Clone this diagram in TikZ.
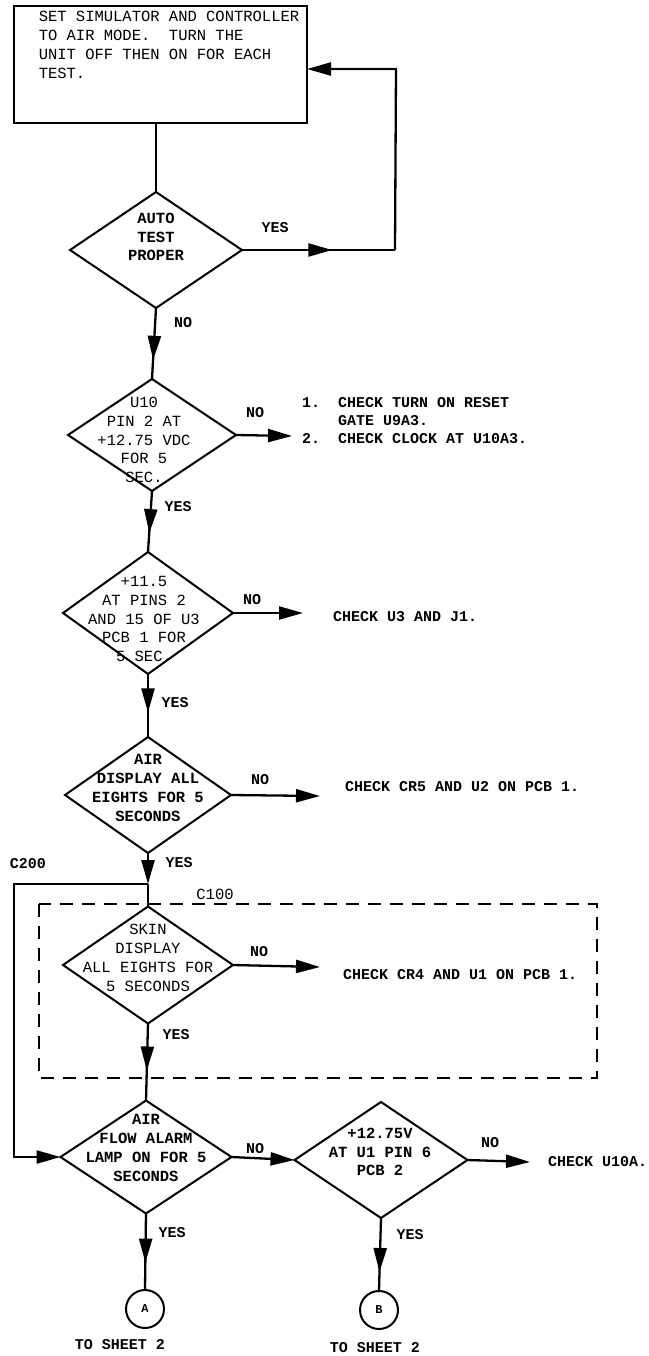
\documentclass[tikz,border=0pt]{standalone}
\usepackage{fontspec}
\setmonofont{Liberation Mono}
\usetikzlibrary{shapes.geometric,arrows.meta,decorations.markings}

\tikzset{
  flow/.style={line width=2.3pt},
  tip/.style={-{Triangle[length=24pt,width=13pt]}},
  midtip/.style={postaction={decorate},decoration={markings,mark=at position #1 with {\arrow{Triangle[length=24pt,width=13pt]}}}},
  dia/.style 2 args={draw,diamond,line width=2pt,inner sep=0pt,outer sep=0pt,minimum width=#1,minimum height=#2},
  txt/.style={font=\ttfamily\fontsize{15.5}{18.8}\selectfont,align=center,inner sep=0pt},
  btxt/.style={txt,font=\ttfamily\bfseries\fontsize{15.5}{18.8}\selectfont},
  lbl/.style={font=\ttfamily\bfseries\fontsize{15}{17}\selectfont,inner sep=0pt},
  note/.style={font=\ttfamily\bfseries\fontsize{15}{18}\selectfont,align=left,inner sep=0pt,anchor=west},
  conn/.style={draw,circle,line width=2pt,inner sep=0pt,minimum size=38pt,font=\ttfamily\bfseries\fontsize{12}{13}\selectfont},
}

\begin{document}
\begin{tikzpicture}[x=1pt,y=-1pt]
\useasboundingbox (0,0) rectangle (648,1356);
% start box
\node[draw,line width=2pt,minimum width=293pt,minimum height=117pt,inner sep=0pt,outer sep=0pt] (setup) at (160.5,64.5) {};
\node[txt,align=left] (setup-t) at (169,45) {SET SIMULATOR AND CONTROLLER\\TO AIR MODE.~ TURN THE\\UNIT OFF THEN ON FOR EACH\\TEST.};
% decisions
\node[dia={172}{116}] (auto) at (156,250) {};
\node[btxt] (auto-t) at (156,237) {AUTO\\TEST\\PROPER};
\node[dia={168}{112}] (u10) at (152,435) {};
\node[txt] (u10-t) at (144,440) {U10\\PIN 2 AT\\+12.75 VDC\\FOR 5\\SEC.};
\node[dia={170}{122}] (pin) at (148,613) {};
\node[txt] (pin-t) at (144,619) {+11.5\\AT PINS 2\\AND 15 OF U3\\PCB 1 FOR\\5 SEC.};
\node[dia={166}{116}] (airdisp) at (148,795) {};
\node[btxt] (airdisp-t) at (148,788) {AIR\\DISPLAY ALL\\EIGHTS FOR 5\\SECONDS};
\node[dia={170}{117}] (skin) at (148,965) {};
\node[txt] (skin-t) at (148,958) {SKIN\\DISPLAY\\ALL EIGHTS FOR\\5 SECONDS};
\node[dia={171}{113}] (airflow) at (146,1157) {};
\node[btxt] (airflow-t) at (146,1148) {AIR\\FLOW ALARM\\LAMP ON FOR 5\\SECONDS};
\node[dia={173}{116}] (volt) at (381,1160) {};
\node[btxt] (volt-t) at (380,1152) {+12.75V\\AT U1 PIN 6\\PCB 2};
% off-sheet connectors
\node[conn] (sheetA) at (145,1309) {A};
\node[conn] (sheetB) at (379,1310) {B};
\node[lbl] (sheetA-t) at (120,1345) {TO SHEET 2};
\node[lbl] (sheetB-t) at (375,1348) {TO SHEET 2};
% free ends
\coordinate (yesr) at (395,250);
\coordinate (yestop) at (396,69);
\coordinate (u10-end) at (292,436);
\coordinate (pin-end) at (303,613);
\coordinate (airdisp-end) at (320,796);
\coordinate (skin-end) at (320,967);
\coordinate (volt-end) at (530,1162);
\coordinate (jn) at (148,884);
\coordinate (jl) at (14,884);
% main flow
\draw[flow] (setup.south -| auto.north) -- (auto.north);
\draw[flow,midtip=0.59] (auto.east) -- (yesr);
\draw[flow,tip] (yesr) -- (yestop) -- (yestop -| setup.east);
\draw[flow,midtip=0.73] (auto.south) -- (u10.north);
\draw[flow,midtip=0.69] (u10.south) -- (pin.north);
\draw[flow,midtip=0.61] (pin.south) -- (airdisp.north);
\draw[flow,tip] (airdisp.south) -- (jn);
\draw[flow] (jn) -- (skin.north);
\draw[flow,tip] (jn) -- (jl) |- (airflow.west);
\draw[flow,midtip=0.61] (skin.south) -- (airflow.north);
\draw[flow,tip] (airflow.east) -- (volt.west);
\draw[flow,midtip=0.65] (airflow.south) -- (sheetA.north);
\draw[flow,midtip=0.75] (volt.south) -- (sheetB.north);
% NO branches
\draw[flow,tip] (u10.east) -- (u10-end);
\draw[flow,tip] (pin.east) -- (pin-end);
\draw[flow,tip] (airdisp.east) -- (airdisp-end);
\draw[flow,tip] (skin.east) -- (skin-end);
\draw[flow,tip] (volt.east) -- (volt-end);
% C100 group
\draw[line width=1.6pt,dash pattern=on 13pt off 9pt] (39,904) rectangle (597,1078);
\node[txt] (c100) at (215,894) {C100};
\node[lbl] (c200) at (28,864) {C200};
% labels
\node[lbl] (auto-yes) at (275,228) {YES};
\node[lbl] (auto-no) at (183,323) {NO};
\node[lbl] (u10-no) at (255,413) {NO};
\node[lbl] (u10-yes) at (178,507) {YES};
\node[lbl] (pin-no) at (252,600) {NO};
\node[lbl] (pin-yes) at (175,703) {YES};
\node[lbl] (airdisp-no) at (260,780) {NO};
\node[lbl] (airdisp-yes) at (179,863) {YES};
\node[lbl] (skin-no) at (259,952) {NO};
\node[lbl] (skin-yes) at (176,1035) {YES};
\node[lbl] (airflow-no) at (255,1149) {NO};
\node[lbl] (airflow-yes) at (172,1233) {YES};
\node[lbl] (volt-no) at (490,1143) {NO};
\node[lbl] (volt-yes) at (410,1235) {YES};
% checks
\node[note] (u10-n) at (302,421) {1.\ \ CHECK TURN ON RESET\\\hphantom{1.}\ \ GATE U9A3.\\2.\ \ CHECK CLOCK AT U10A3.};
\node[note] (pin-n) at (333,617) {CHECK U3 AND J1.};
\node[note] (airdisp-n) at (345,787) {CHECK CR5 AND U2 ON PCB 1.};
\node[note] (skin-n) at (343,975) {CHECK CR4 AND U1 ON PCB 1.};
\node[note] (volt-n) at (548,1162) {CHECK U10A.};
\end{tikzpicture}
\end{document}
